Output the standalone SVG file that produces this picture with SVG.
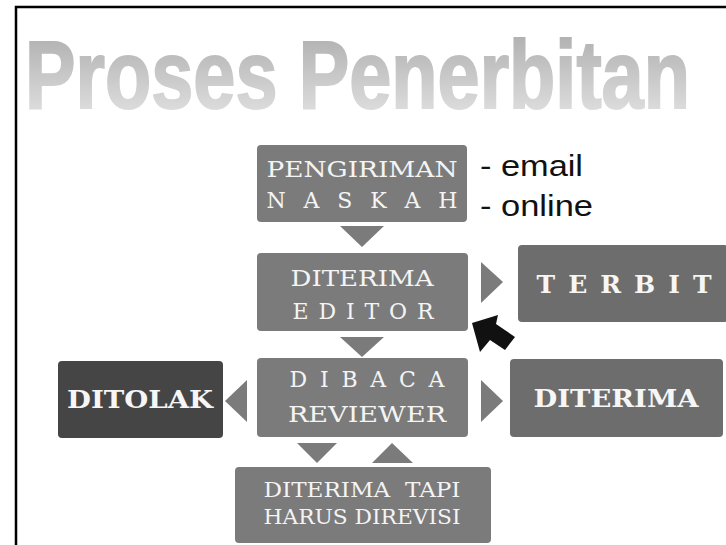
<svg xmlns="http://www.w3.org/2000/svg" width="726" height="545" viewBox="0 0 726 545">
<defs>
<linearGradient id="tg" x1="0" y1="0" x2="0" y2="1">
<stop offset="0" stop-color="#a9a9a9"/>
<stop offset="1" stop-color="#e6e6e6"/>
</linearGradient>
<style>
.box{fill:#7b7b7b;}
.boxd{fill:#6d6d6d;}
.boxk{fill:#454545;}
.tri{fill:#7b7b7b;}
.t{font-family:"DejaVu Serif","Liberation Serif",serif;fill:#f4f4f4;text-anchor:middle;}
.tb{font-family:"DejaVu Serif","Liberation Serif",serif;font-weight:bold;fill:#f6f6f6;text-anchor:middle;}
.side{font-family:"Liberation Sans","DejaVu Sans",sans-serif;fill:#111;font-size:30px;}
</style>
</defs>
<rect x="0" y="0" width="726" height="545" fill="#ffffff"/>
<rect x="16" y="7" width="730" height="560" fill="none" stroke="#000" stroke-width="2.5"/>
<text id="title" transform="translate(25,108) scale(1,1.65)" x="0" y="0" font-family="Liberation Sans, DejaVu Sans, sans-serif" font-weight="bold" font-size="58" fill="url(#tg)" stroke="url(#tg)" stroke-width="1.2" textLength="665" lengthAdjust="spacingAndGlyphs">Proses Penerbitan</text>

<g id="connectors">
<polygon class="tri" points="340,226 384,226 362,247"/>
<polygon class="tri" points="481,262 503,282 481,303"/>
<polygon class="tri" points="340,337 384,337 362,357"/>
<polygon class="tri" points="247,380 247,422 225,401"/>
<polygon class="tri" points="481,380 503,401 481,422"/>
<polygon class="tri" points="297,443 337,443 317,463"/>
<polygon class="tri" points="372,463 413,463 392,443"/>
<polygon fill="#111" points="472,323 498,315 496,324 515,337 505,350 490,340 480,352"/>
</g>

<g id="pengiriman">
<rect class="box" x="257" y="145" width="210" height="77" rx="4"/>
<text class="t" x="362" y="177" font-size="22" textLength="191" lengthAdjust="spacingAndGlyphs">PENGIRIMAN</text>
<text class="t" x="362" y="208" font-size="22" textLength="191" lengthAdjust="spacing">N A S K A H</text>
</g>
<g id="keterangan">
<text class="side" x="480" y="176" textLength="103" lengthAdjust="spacingAndGlyphs">- email</text>
<text class="side" x="480" y="216" textLength="113" lengthAdjust="spacingAndGlyphs">- online</text>
</g>

<g id="editor">
<rect class="box" x="257" y="253" width="211" height="78" rx="4"/>
<text class="t" x="362" y="286" font-size="22" textLength="143" lengthAdjust="spacingAndGlyphs">DITERIMA</text>
<text class="t" x="363" y="319" font-size="22" textLength="141" lengthAdjust="spacing">E D I T O R</text>
</g>

<g id="terbit">
<rect class="boxd" x="518" y="245" width="210" height="77" rx="4"/>
<text class="tb" x="624" y="293" font-size="25" textLength="175" lengthAdjust="spacing">T E R B I T</text>
</g>

<g id="reviewer">
<rect class="box" x="257" y="358" width="211" height="79" rx="4"/>
<text class="t" x="367" y="387" font-size="22" textLength="155" lengthAdjust="spacing">D I B A C A</text>
<text class="t" x="367" y="422" font-size="22" textLength="158" lengthAdjust="spacingAndGlyphs">REVIEWER</text>
</g>

<g id="ditolak">
<rect class="boxk" x="58" y="361" width="165" height="77" rx="4"/>
<text class="tb" x="140" y="408" font-size="25" textLength="146" lengthAdjust="spacingAndGlyphs">DITOLAK</text>
</g>

<g id="diterima">
<rect class="boxd" x="510" y="359" width="213" height="78" rx="4"/>
<text class="tb" x="616" y="407" font-size="25" textLength="165" lengthAdjust="spacingAndGlyphs">DITERIMA</text>
</g>

<g id="revisi">
<rect class="box" x="235" y="467" width="256" height="76" rx="4"/>
<text class="t" x="362" y="497" font-size="20" textLength="197" lengthAdjust="spacingAndGlyphs" xml:space="preserve">DITERIMA  TAPI</text>
<text class="t" x="362" y="524" font-size="20" textLength="197" lengthAdjust="spacingAndGlyphs">HARUS DIREVISI</text>
</g>
</svg>
